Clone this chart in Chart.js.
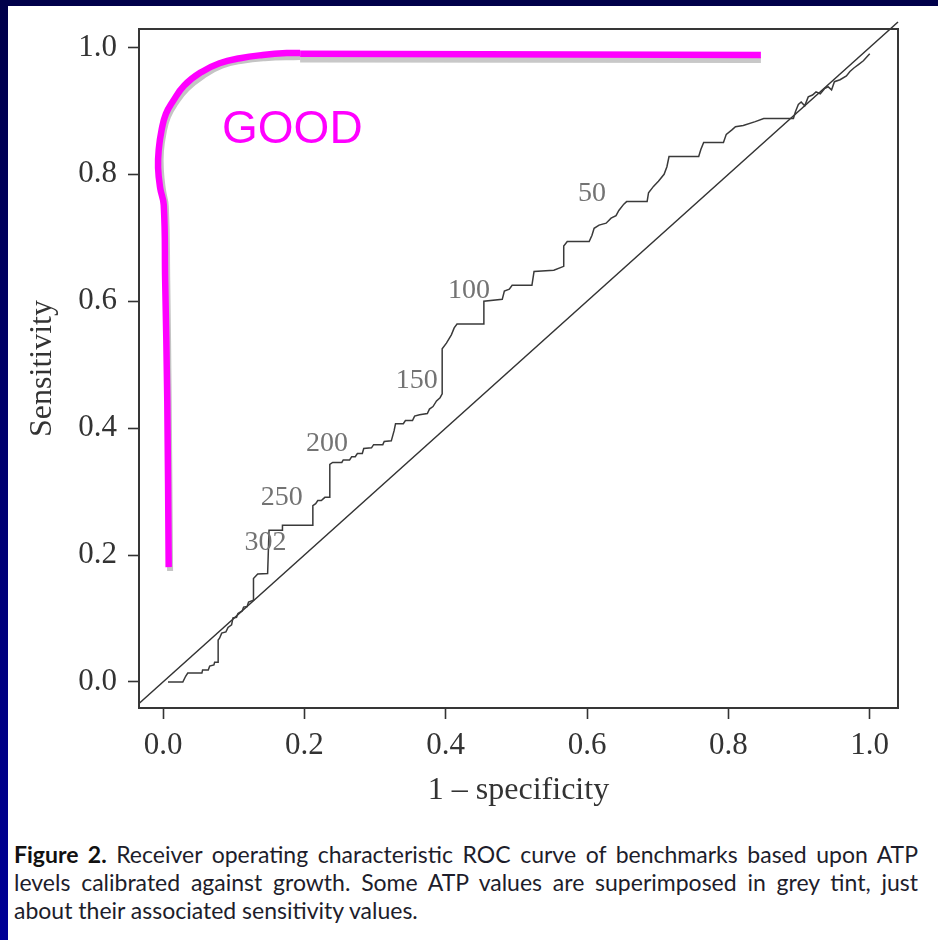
<!DOCTYPE html>
<html>
<head>
<meta charset="utf-8">
<script src="https://cdn.jsdelivr.net/npm/chart.js@4.4.1/dist/chart.umd.min.js"></script>
<style>
  html, body { margin: 0; padding: 0; }
  body {
    width: 938px; height: 940px; overflow: hidden; position: relative;
    background: linear-gradient(to bottom, #00004a 0%, #000096 100%);
  }
  #panel { position: absolute; left: 8px; top: 6px; right: 0; bottom: 0; background: #ffffff; }
  #chart { position: absolute; left: 0; top: 0; }
  #caption {
    position: absolute; left: 14px; top: 840px; width: 904px;
    font-family: Lato, "Open Sans", sans-serif; font-size: 23px; line-height: 28px;
    color: #1d1d2b;
  }
  #caption .j { text-align: justify; text-align-last: justify; }
  #caption b { font-weight: 700; color: #111; }
</style>
</head>
<body>
<div id="panel"></div>
<canvas id="chart" width="938" height="820"></canvas>
<div id="caption">
  <div class="j"><b>Figure 2.</b> Receiver operating characteristic ROC curve of benchmarks based upon ATP</div>
  <div class="j">levels calibrated against growth. Some ATP values are superimposed in grey tint, just</div>
  <div>about their associated sensitivity values.</div>
</div>
<script>
// Axis ticks
const xTicks = [0, 0.2, 0.4, 0.6, 0.8, 1.0];
const yTicks = [0, 0.2, 0.4, 0.6, 0.8, 1.0];

// Empirical ROC curve: 1 - specificity vs sensitivity
const rocX = [0.007, 0.028, 0.032, 0.035, 0.055, 0.056, 0.064, 0.066, 0.072, 0.073, 0.078, 0.078,
  0.080, 0.083, 0.089, 0.092, 0.097, 0.099, 0.104, 0.106, 0.112, 0.114, 0.119, 0.121, 0.128, 0.128,
  0.134, 0.148, 0.150, 0.169, 0.169, 0.212, 0.212, 0.216, 0.219, 0.224, 0.229, 0.236, 0.236, 0.240,
  0.253, 0.255, 0.264, 0.267, 0.272, 0.275, 0.282, 0.284, 0.295, 0.298, 0.311, 0.313, 0.323, 0.327,
  0.329, 0.340, 0.343, 0.353, 0.356, 0.363, 0.374, 0.377, 0.382, 0.387, 0.392, 0.395, 0.395, 0.401,
  0.408, 0.412, 0.416, 0.454, 0.454, 0.480, 0.483, 0.490, 0.494, 0.522, 0.525, 0.553, 0.567, 0.567,
  0.572, 0.603, 0.607, 0.610, 0.617, 0.627, 0.634, 0.641, 0.645, 0.652, 0.656, 0.685, 0.687, 0.694,
  0.701, 0.709, 0.713, 0.716, 0.758, 0.761, 0.765, 0.793, 0.797, 0.805, 0.810, 0.821, 0.838, 0.850,
  0.892, 0.895, 0.899, 0.903, 0.908, 0.913, 0.919, 0.924, 0.930, 0.936, 0.941, 0.946, 0.950, 0.958,
  0.967, 0.972, 0.978, 0.984, 0.991, 1.000];
const rocY = [0.000, 0.000, 0.009, 0.014, 0.014, 0.019, 0.019, 0.025, 0.027, 0.031, 0.031, 0.066,
  0.069, 0.077, 0.079, 0.086, 0.090, 0.101, 0.102, 0.108, 0.112, 0.118, 0.119, 0.126, 0.129, 0.163,
  0.170, 0.171, 0.239, 0.239, 0.247, 0.247, 0.278, 0.281, 0.286, 0.286, 0.291, 0.291, 0.343, 0.346,
  0.346, 0.350, 0.350, 0.355, 0.355, 0.360, 0.360, 0.368, 0.369, 0.374, 0.374, 0.379, 0.380, 0.396,
  0.407, 0.407, 0.412, 0.412, 0.419, 0.421, 0.423, 0.430, 0.434, 0.443, 0.448, 0.454, 0.525, 0.534,
  0.547, 0.558, 0.564, 0.564, 0.600, 0.603, 0.616, 0.619, 0.625, 0.625, 0.647, 0.649, 0.655, 0.687,
  0.694, 0.694, 0.704, 0.715, 0.720, 0.723, 0.731, 0.735, 0.743, 0.753, 0.757, 0.757, 0.771, 0.781,
  0.789, 0.800, 0.812, 0.828, 0.828, 0.839, 0.850, 0.850, 0.863, 0.870, 0.875, 0.877, 0.883, 0.888,
  0.888, 0.899, 0.910, 0.914, 0.908, 0.922, 0.925, 0.930, 0.927, 0.935, 0.938, 0.933, 0.946, 0.949,
  0.955, 0.962, 0.968, 0.973, 0.979, 0.990];

// Chance line
const chanceX = [-0.034, 1.04];
const chanceY = [-0.034, 1.04];

// Hand-drawn "good" curve (magenta) and its grey under-stroke
const goodCurveX = [0.008, 0.006, 0.003, 0.001, -0.004, -0.007, -0.006, -0.002, 0.004, 0.014, 0.030,
  0.054, 0.080, 0.109, 0.141, 0.175, 0.194];
const goodCurveY = [0.181, 0.444, 0.633, 0.752, 0.778, 0.810, 0.840, 0.870, 0.895, 0.915, 0.940,
  0.961, 0.975, 0.983, 0.988, 0.991, 0.991];
const goodTopX = [0.194, 0.846];
const goodTopY = [0.990, 0.988];
const shadeCurveX = [0.010, 0.008, 0.006, 0.004, 0.000, -0.003, -0.003, 0.001, 0.007, 0.017, 0.034,
  0.058, 0.083, 0.112, 0.144, 0.194];
const shadeCurveY = [0.175, 0.444, 0.633, 0.749, 0.775, 0.806, 0.836, 0.867, 0.891, 0.911, 0.935,
  0.956, 0.971, 0.979, 0.983, 0.985];
const shadeTopX = [0.194, 0.846];
const shadeTopY = [0.981, 0.980];

// ATP values written next to the curve
const atpText = ['302', '250', '200', '150', '100', '50'];
const atpX = [0.145, 0.168, 0.232, 0.359, 0.433, 0.607];
const atpY = [0.219, 0.291, 0.375, 0.475, 0.617, 0.770];

// "GOOD" tag
const goodText = 'GOOD';
const goodAt = [0.0835, 0.849];

const pts = (xs, ys) => xs.map((x, i) => ({ x: x, y: ys[i] }));

const SERIF = '"Liberation Serif", "Times New Roman", serif';
const INK = '#333333';

const annotations = {
  id: 'annotations',
  afterDatasetsDraw(chart) {
    const { ctx, chartArea: a, scales: { x, y } } = chart;
    ctx.save();
    // ATP labels
    ctx.font = '28px ' + SERIF;
    ctx.fillStyle = '#737373';
    ctx.textAlign = 'center';
    ctx.textBaseline = 'middle';
    atpText.forEach((t, i) => ctx.fillText(t, x.getPixelForValue(atpX[i]), y.getPixelForValue(atpY[i])));
    // GOOD
    ctx.font = '46px "Liberation Sans", Arial, sans-serif';
    ctx.fillStyle = '#ff00ff';
    ctx.textAlign = 'left';
    ctx.textBaseline = 'alphabetic';
    ctx.fillText(goodText, x.getPixelForValue(goodAt[0]), y.getPixelForValue(goodAt[1]));
    // box around the plot region
    ctx.strokeStyle = '#363636';
    ctx.lineWidth = 2;
    ctx.strokeRect(a.left, a.top, a.right - a.left, a.bottom - a.top);
    ctx.restore();
  }
};

const noPad = (s) => { s.paddingTop = 0; s.paddingBottom = 0; s.paddingLeft = 0; s.paddingRight = 0; };

new Chart(document.getElementById('chart'), {
  type: 'line',
  data: {
    datasets: [
      { data: pts(goodCurveX, goodCurveY), borderColor: '#ff00ff', borderWidth: 6.5, tension: 0.45,
        pointRadius: 0, fill: false, order: 0, borderCapStyle: 'butt' },
      { data: pts(goodTopX, goodTopY), borderColor: '#ff00ff', borderWidth: 6.5, tension: 0,
        pointRadius: 0, fill: false, order: 0, borderCapStyle: 'butt' },
      { data: pts(shadeCurveX, shadeCurveY), borderColor: '#c4c4c4', borderWidth: 6, tension: 0.45,
        pointRadius: 0, fill: false, order: 1, borderCapStyle: 'butt' },
      { data: pts(shadeTopX, shadeTopY), borderColor: '#c8c8c8', borderWidth: 6, tension: 0,
        pointRadius: 0, fill: false, order: 1, borderCapStyle: 'butt' },
      { data: pts(rocX, rocY), borderColor: '#3a3a3a', borderWidth: 1.5, tension: 0,
        pointRadius: 0, fill: false, order: 2 },
      { data: pts(chanceX, chanceY), borderColor: '#333333', borderWidth: 1.5, tension: 0,
        pointRadius: 0, fill: false, order: 3, clip: false }
    ]
  },
  options: {
    responsive: false,
    devicePixelRatio: 1,
    animation: false,
    parsing: false,
    layout: { padding: { top: 29, right: 40, left: 0, bottom: 0 } },
    plugins: { legend: { display: false }, tooltip: { enabled: false } },
    scales: {
      x: {
        type: 'linear', position: 'bottom', min: -0.034, max: 1.04,
        afterBuildTicks: (s) => { s.ticks = xTicks.map(v => ({ value: v })); },
        afterFit: (s) => { s.height = 112; noPad(s); },
        grid: { display: true, drawOnChartArea: false, drawTicks: true, tickLength: 11,
                tickColor: INK, tickWidth: 1.6, color: INK },
        border: { display: false },
        ticks: { autoSkip: false, maxRotation: 0, padding: 8, color: INK,
                 font: { family: SERIF, size: 31 }, callback: (v) => Number(v).toFixed(1) },
        title: { display: true, text: '1 \u2013 specificity', color: INK,
                 font: { family: SERIF, size: 32 }, padding: { top: 10, bottom: 10 } }
      },
      y: {
        type: 'linear', position: 'left', min: -0.041, max: 1.029,
        afterBuildTicks: (s) => { s.ticks = yTicks.map(v => ({ value: v })); },
        afterFit: (s) => { s.width = 139; noPad(s); },
        grid: { display: true, drawOnChartArea: false, drawTicks: true, tickLength: 11,
                tickColor: INK, tickWidth: 1.6, color: INK },
        border: { display: false },
        ticks: { autoSkip: false, padding: 11, color: INK,
                 font: { family: SERIF, size: 31 }, callback: (v) => Number(v).toFixed(1) },
        title: { display: true, text: 'Sensitivity', color: INK,
                 font: { family: SERIF, size: 32 }, padding: { top: 23, bottom: 23 } }
      }
    }
  },
  plugins: [annotations]
});
</script>
</body>
</html>
